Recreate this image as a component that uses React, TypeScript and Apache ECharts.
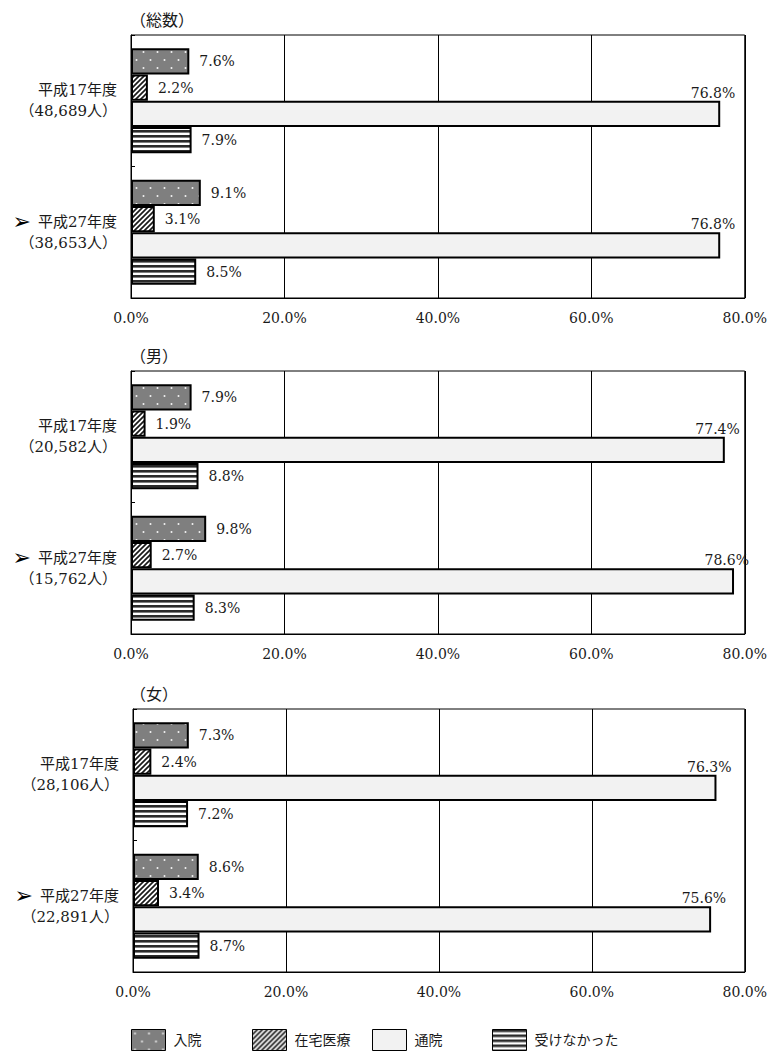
import React, { useEffect, useRef } from "react";
import * as echarts from "echarts";

const seriesNames = ["入院", "在宅医療", "通院", "受けなかった"];
const panelTitles = ["（総数）", "（男）", "（女）"];

const catTotal = ["平成17年度\n（48,689人）", "{a|➢}平成27年度\n（38,653人）"];
const catMale = ["平成17年度\n（20,582人）", "{a|➢}平成27年度\n（15,762人）"];
const catFemale = ["平成17年度\n（28,106人）", "{a|➢}平成27年度\n（22,891人）"];

// [H17, H27] for each series
const totalInpatient = [7.6, 9.1];
const totalHome = [2.2, 3.1];
const totalOutpatient = [76.8, 76.8];
const totalNone = [7.9, 8.5];

const maleInpatient = [7.9, 9.8];
const maleHome = [1.9, 2.7];
const maleOutpatient = [77.4, 78.6];
const maleNone = [8.8, 8.3];

const femaleInpatient = [7.3, 8.6];
const femaleHome = [2.4, 3.4];
const femaleOutpatient = [76.3, 75.6];
const femaleNone = [7.2, 8.7];

const xTicks = [0, 20, 40, 60, 80];

const FONT = "'DejaVu Serif', 'Noto Sans CJK JP', serif";
const TEXT = "#1a1a1a";

function makeTile(w: number, h: number, draw: (ctx: CanvasRenderingContext2D) => void) {
  const c = document.createElement("canvas");
  c.width = w;
  c.height = h;
  const ctx = c.getContext("2d")!;
  draw(ctx);
  return { image: c, repeat: "repeat", imageWidth: w, imageHeight: h } as any;
}

export default function App() {
  const ref = useRef<HTMLDivElement>(null);
  useEffect(() => {
    document.body.style.margin = "0";
    const chart = echarts.init(ref.current!, null, { renderer: "svg" });

    const dots = makeTile(14, 16, (ctx) => {
      ctx.fillStyle = "#7f7f7f";
      ctx.fillRect(0, 0, 14, 16);
      ctx.fillStyle = "#f4f4f4";
      ctx.beginPath();
      ctx.arc(3.5, 4, 1, 0, Math.PI * 2);
      ctx.fill();
      ctx.beginPath();
      ctx.arc(10.5, 12, 1, 0, Math.PI * 2);
      ctx.fill();
    });
    const hatch = makeTile(5, 5, (ctx) => {
      ctx.fillStyle = "#ffffff";
      ctx.fillRect(0, 0, 5, 5);
      ctx.strokeStyle = "#1a1a1a";
      ctx.lineWidth = 1.7;
      ctx.beginPath();
      ctx.moveTo(-1, 6);
      ctx.lineTo(6, -1);
      ctx.moveTo(-1, 1);
      ctx.lineTo(1, -1);
      ctx.moveTo(4, 6);
      ctx.lineTo(6, 4);
      ctx.stroke();
    });
    const stripes = makeTile(4, 5, (ctx) => {
      ctx.fillStyle = "#ffffff";
      ctx.fillRect(0, 0, 4, 5);
      ctx.fillStyle = "#2a2a2a";
      ctx.fillRect(0, 0, 4, 2.6);
    });
    const fills = [dots, hatch, "#f2f2f2", stripes];

    const panels = [
      { cats: catTotal, vals: [totalInpatient, totalHome, totalOutpatient, totalNone], left: 131, top: 35, width: 617, height: 263 },
      { cats: catMale, vals: [maleInpatient, maleHome, maleOutpatient, maleNone], left: 131, top: 371, width: 616, height: 263 },
      { cats: catFemale, vals: [femaleInpatient, femaleHome, femaleOutpatient, femaleNone], left: 133, top: 709, width: 616, height: 263 },
    ];

    const grid = panels.map((p) => ({
      left: p.left,
      top: p.top,
      width: p.width,
      height: p.height,
      show: true,
      borderColor: "#000",
      borderWidth: 1,
      backgroundColor: "transparent",
      containLabel: false,
    }));

    const xAxis = panels.map((_, i) => ({
      type: "value",
      gridIndex: i,
      min: xTicks[0],
      max: xTicks[xTicks.length - 1],
      interval: xTicks[1] - xTicks[0],
      axisLine: { show: true, lineStyle: { color: "#000", width: 1 } },
      axisTick: { show: false },
      splitLine: { show: true, lineStyle: { color: "#000", width: 1 } },
      axisLabel: {
        formatter: (v: number) => v.toFixed(1) + "%",
        fontFamily: FONT,
        fontSize: 14,
        color: TEXT,
        margin: 13,
      },
    }));

    const yAxis = panels.map((p, i) => ({
      type: "category",
      gridIndex: i,
      inverse: true,
      data: p.cats,
      axisLine: { show: true, lineStyle: { color: "#000", width: 1 } },
      axisTick: { show: true, inside: true, length: 4, lineStyle: { color: "#000" } },
      axisLabel: {
        fontFamily: FONT,
        fontSize: 15,
        lineHeight: 21,
        color: TEXT,
        margin: 14,
        align: "right",
        rich: {
          a: { fontFamily: "'DejaVu Sans', sans-serif", fontSize: 22, color: "#000", lineHeight: 21, padding: [0, 7, 0, 0] },
        },
      },
    }));

    const series: any[] = [];
    panels.forEach((p, pi) => {
      seriesNames.forEach((name, si) => {
        const isOut = si === 2;
        series.push({
          type: "bar",
          name,
          xAxisIndex: pi,
          yAxisIndex: pi,
          data: p.vals[si],
          barGap: "0%",
          barCategoryGap: "20%",
          itemStyle: { color: fills[si], borderColor: "#000", borderWidth: 2 },
          label: {
            show: true,
            position: "right",
            distance: isOut ? 15 : 10,
            align: isOut ? "right" : "left",
            offset: isOut ? [0, -21] : [0, 0],
            formatter: (d: any) => Number(d.value).toFixed(1) + "%",
            fontFamily: FONT,
            fontSize: 14,
            color: TEXT,
          },
        });
      });
    });

    const legendLefts = [131, 252, 372, 492];
    const legend = seriesNames.map((n, i) => ({
      data: [n],
      left: legendLefts[i],
      top: 1029,
      padding: 0,
      itemWidth: 34,
      itemHeight: 21,
      icon: "rect",
      selectedMode: false,
      itemStyle: { borderColor: "#000", borderWidth: 1 },
      textStyle: { fontFamily: FONT, fontSize: 14, color: TEXT, padding: [0, 0, 0, 3] },
    }));

    const titleTops = [12, 348, 686];
    const title = panelTitles.map((t, i) => ({
      text: t,
      left: 130,
      top: titleTops[i],
      padding: 0,
      textStyle: { fontFamily: FONT, fontSize: 16, fontWeight: "normal", color: TEXT },
    }));

    chart.setOption({
      animation: false,
      backgroundColor: "#fff",
      title,
      legend,
      grid,
      xAxis,
      yAxis,
      series,
    } as any);

    return () => chart.dispose();
  }, []);
  return <div ref={ref} style={{ width: 770, height: 1059 }} />;
}
